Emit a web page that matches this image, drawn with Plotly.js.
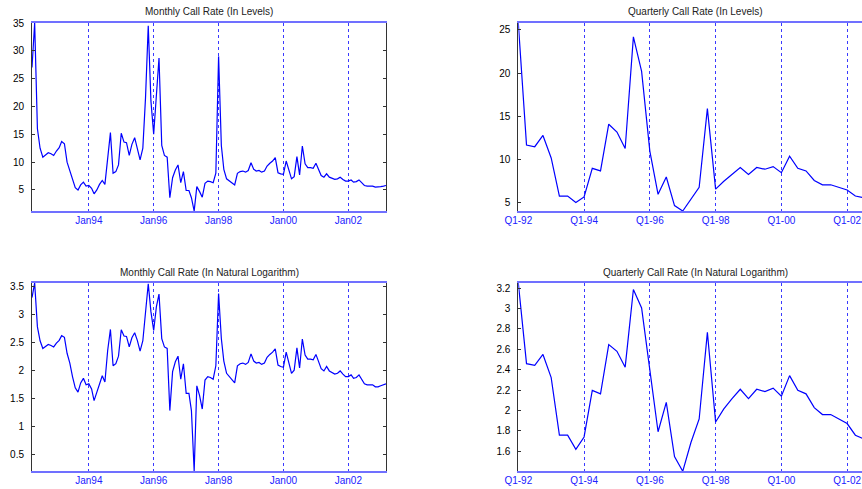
<!DOCTYPE html>
<html><head><meta charset="utf-8">
<script src="https://cdn.plot.ly/plotly-3.0.1.min.js"></script>
<style>html,body{margin:0;padding:0;overflow:hidden;background:#fff}#chart{width:900px;height:489px}</style>
</head><body><div id="chart"></div>
<script>
// Monthly call rate, April 1992 - March 2003 (per cent)
const monthlyStartYear = 1992;
const monthlyStartMonth = 4;
const monthlyRate = [
  27, 35, 16, 12.5, 10.9, 11.3, 11.7, 11.5, 11.2, 12.0, 12.6, 13.7,
  13.3, 10.0, 8.4, 6.6, 5.4, 5.0, 5.9, 6.4, 5.7, 5.8, 5.3, 4.3,
  5.0, 6.0, 6.7, 6.0, 10.5, 15.3, 8.0, 8.3, 9.5, 15.2, 13.6, 13.5,
  11.2, 13.2, 14.4, 12.6, 10.4, 12.5, 21.5, 34.5, 21, 15.0, 23, 28.7,
  13, 11.2, 10.9, 3.6, 7.2, 8.6, 9.5, 6.3, 8.3, 4.9, 4.9, 3.6,
  1.22, 5.6, 4.7, 3.7, 6.2, 6.6, 6.5, 6.3, 8.0, 29, 13, 8.7,
  7.0, 6.6, 6.3, 5.9, 8.0, 8.3, 8.4, 8.2, 8.5, 9.9, 8.7, 8.4,
  8.5, 8.2, 8.4, 9.3, 9.8, 10.2, 10.8, 8.1, 7.9, 7.8, 10.2, 8.5,
  7.0, 7.4, 11.0, 7.7, 12.9, 9.7, 9.0, 9.0, 8.9, 9.8, 8.7, 7.6,
  7.3, 7.9, 7.3, 7.1, 6.9, 7.0, 7.3, 6.9, 6.6, 6.6, 6.8, 6.4,
  6.5, 6.8, 6.2, 5.8, 5.7, 5.7, 5.7, 5.5, 5.5, 5.6, 5.7, 5.8
];
const monthTickDates = ['1994-01-01', '1996-01-01', '1998-01-01', '2000-01-01', '2002-01-01'];

// Quarterly call rate (per cent)
const quarterlyRate = [
  25.8, 11.7, 11.5, 12.8, 10.2, 5.8, 5.8, 5.05, 5.7, 9.0, 8.7, 14.1,
  13.2, 11.3, 24.2, 20.2, 11.0, 6.0, 8.0, 4.7, 4.07, 5.4, 6.8, 15.9,
  6.6, 7.5, 8.3, 9.1, 8.3, 9.1, 8.9, 9.2, 8.5, 10.4, 9.0, 8.7,
  7.6, 7.1, 7.1, 6.8, 6.5, 5.8, 5.6, 5.7
];
const quarterTickLabels = ['Q1-92', 'Q1-94', 'Q1-96', 'Q1-98', 'Q1-00', 'Q1-02'];
const quarterTickStep = 8;

const titles = [
  'Monthly Call Rate (In Levels)', 'Quarterly Call Rate (In Levels)',
  'Monthly Call Rate (In Natural Logarithm)', 'Quarterly Call Rate (In Natural Logarithm)'
];

// derived
const pad = n => (n < 10 ? '0' : '') + n;
const monthDates = monthlyRate.map((_, i) => {
  const m = monthlyStartMonth - 1 + i;
  return (monthlyStartYear + Math.floor(m / 12)) + '-' + pad(m % 12 + 1) + '-01';
});
const quarterIdx = quarterlyRate.map((_, i) => i);
const monthlyLn = monthlyRate.map(Math.log);
const quarterlyLn = quarterlyRate.map(Math.log);
const qTickVals = quarterTickLabels.map((_, i) => i * quarterTickStep);

const W = 900, H = 489;
const LINE = '#0000ff';
const font = {family: 'Liberation Sans, Arial, sans-serif'};

function trace(x, y, xa, ya) {
  return {x: x, y: y, xaxis: xa, yaxis: ya, type: 'scatter', mode: 'lines',
          line: {color: LINE, width: 1.2}, hoverinfo: 'skip', showlegend: false};
}
const data = [
  trace(monthDates, monthlyRate, 'x', 'y'),
  trace(quarterIdx, quarterlyRate, 'x2', 'y2'),
  trace(monthDates, monthlyLn, 'x3', 'y3'),
  trace(quarterIdx, quarterlyLn, 'x4', 'y4')
];

const colL = [32 / W, 386 / W];
const colR = [518.3 / W, 871.8 / W];
const rowT = [(H - 211) / H, (H - 23) / H];
const rowB = [(H - 471.3) / H, (H - 283) / H];

function xax(dom, anchor, extra) {
  return Object.assign({
    domain: dom, anchor: anchor, showgrid: true, gridcolor: '#3a3aff', griddash: 'dot', gridwidth: 1,
    showline: true, linecolor: '#7070ff', linewidth: 1.6, mirror: true, ticks: '', zeroline: false,
    tickfont: {size: 10, color: '#2020ff'}, ticklabelstandoff: -1
  }, extra);
}
function yax(dom, anchor, range, dtick) {
  return {
    domain: dom, anchor: anchor, range: range, dtick: dtick, tick0: 0, autorange: false,
    showgrid: false, zeroline: false, showline: true, linecolor: '#333', linewidth: 1,
    mirror: 'allticks', ticks: 'inside', ticklen: 3, tickcolor: '#333',
    tickfont: {size: 10, color: '#000'}, ticklabelstandoff: 5
  };
}
const mMin = Math.min(...monthlyRate), mMax = Math.max(...monthlyRate);
const qMin = Math.min(...quarterlyRate), qMax = Math.max(...quarterlyRate);
const mRange = [monthDates[0], monthDates[monthDates.length - 1]];
const qRange = [0, quarterlyRate.length - 1];

const layout = {
  width: W, height: H, margin: {l: 0, r: 0, t: 0, b: 0},
  paper_bgcolor: '#fff', plot_bgcolor: '#fff', font: font, showlegend: false,
  xaxis: xax(colL, 'y', {type: 'date', range: mRange, tickvals: monthTickDates, tickformat: '%b%y'}),
  yaxis: yax(rowT, 'x', [mMin, mMax], 5),
  xaxis2: xax(colR, 'y2', {range: qRange, tickvals: qTickVals, ticktext: quarterTickLabels}),
  yaxis2: yax(rowT, 'x2', [qMin, qMax], 5),
  xaxis3: xax(colL, 'y3', {type: 'date', range: mRange, tickvals: monthTickDates, tickformat: '%b%y'}),
  yaxis3: yax(rowB, 'x3', [Math.log(mMin), Math.log(mMax)], 0.5),
  xaxis4: xax(colR, 'y4', {range: qRange, tickvals: qTickVals, ticktext: quarterTickLabels}),
  yaxis4: yax(rowB, 'x4', [Math.log(qMin), Math.log(qMax)], 0.2),
  annotations: titles.map((t, k) => ({
    text: t, xref: 'paper', yref: 'paper',
    x: ((k % 2 === 0 ? colL : colR)[0] + (k % 2 === 0 ? colL : colR)[1]) / 2,
    y: (H - (k < 2 ? 12 : 272)) / H, xanchor: 'center', yanchor: 'middle',
    showarrow: false, font: {size: 10, color: '#222'}
  }))
};
Plotly.newPlot('chart', data, layout, {displayModeBar: false, staticPlot: true});
</script></body></html>
